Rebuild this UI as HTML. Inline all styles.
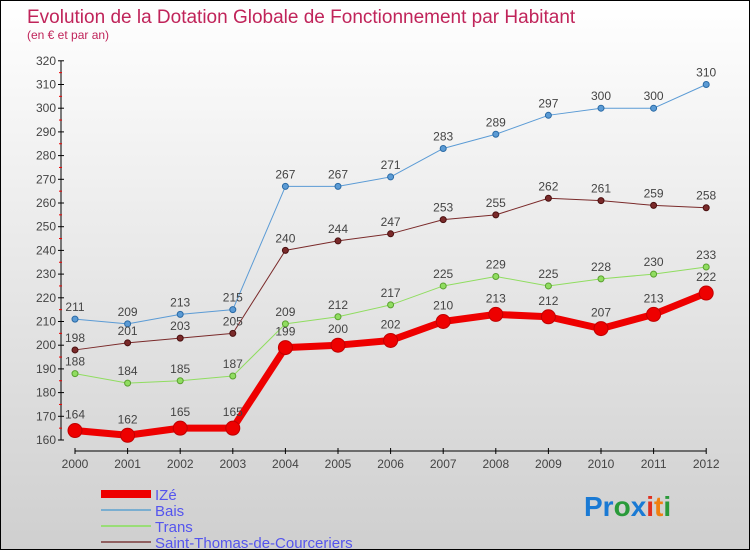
<!DOCTYPE html>
<html><head><meta charset="utf-8"><style>
body{margin:0}
#c{width:750px;height:550px;position:relative;overflow:hidden;box-sizing:border-box;border:1px solid #000;background:linear-gradient(#ffffff,#cfcfcf);font-family:"Liberation Sans",sans-serif}
</style></head><body>
<div id="c">
<svg id="s" width="748" height="548" xmlns="http://www.w3.org/2000/svg">
<text x="26" y="22" font-size="19" fill="#c0245a">Evolution de la Dotation Globale de Fonctionnement par Habitant</text>
<text x="26" y="38" font-size="12" fill="#c0245a">(en € et par an)</text>
<g id="axes"></g><g id="series"></g><g id="legend"></g>
<text x="583" y="515" font-size="28" font-weight="bold"><tspan fill="#1a7ad4">Pr</tspan><tspan fill="#2a9a3a">o</tspan><tspan fill="#1a7ad4">x</tspan><tspan fill="#e03020">i</tspan><tspan fill="#f08010">t</tspan><tspan fill="#2a9a3a">i</tspan></text>
</svg></div>
<script>
const years=[2000,2001,2002,2003,2004,2005,2006,2007,2008,2009,2010,2011,2012];
const ize=[164,162,165,165,199,200,202,210,213,212,207,213,222];
const bais=[211,209,213,215,267,267,271,283,289,297,300,300,310];
const trans=[188,184,185,187,209,212,217,225,229,225,228,230,233];
const stthomas=[198,201,203,205,240,244,247,253,255,262,261,259,258];
const yTicks=[160,170,180,190,200,210,220,230,240,250,260,270,280,290,300,310,320];
const NS="http://www.w3.org/2000/svg";
const X=i=>74+i*52.6, Y=v=>439-(v-160)*2.37;
function mk(t,a,p){const e=document.createElementNS(NS,t);for(const k in a)e.setAttribute(k,a[k]);p.appendChild(e);return e;}
const ax=document.getElementById('axes');
const yl=mk('line',{x1:60,y1:Y(320),x2:60,y2:Y(160),stroke:'#000'},ax);

yTicks.forEach(v=>{mk('line',{x1:57,x2:63,y1:Y(v),y2:Y(v),stroke:'#000'},ax);
 if(v<320)mk('line',{x1:58,x2:61,y1:Y(v+5),y2:Y(v+5),stroke:'#e00'},ax);
 const t=mk('text',{x:55,y:Y(v)+4,'font-size':12,fill:'#444','text-anchor':'end'},ax);t.textContent=v;
 });
const xl=mk('line',{x1:X(0),x2:X(12),y1:450,y2:450,stroke:'#000'},ax);

years.forEach((y,i)=>{mk('line',{x1:X(i),x2:X(i),y1:447,y2:453,stroke:'#000'},ax);
 const t=mk('text',{x:X(i),y:467,'font-size':12,fill:'#444','text-anchor':'middle'},ax);t.textContent=y;
 });
const sg=document.getElementById('series');
function series(d,col,dark,w,r,name){
 const g=mk('g',{},sg);
 const pl=mk('polyline',{points:d.map((v,i)=>X(i)+','+Y(v)).join(' '),fill:'none',stroke:col,'stroke-width':w,'stroke-linejoin':'round'},g);
 
 d.forEach((v,i)=>{const c=mk('circle',{cx:X(i),cy:Y(v),r:r,fill:col,stroke:dark,'stroke-width':1},g);
  
  const t=mk('text',{x:X(i),y:Y(v)-r-5,'font-size':12,fill:'#444','text-anchor':'middle'},g);t.textContent=v;
  });
}
series(bais,'#5b9bd5','#2a6aa5',1,3,'bais');
series(stthomas,'#7a2a2a','#4a1010',1,3,'saint-thomas');
series(trans,'#90dd60','#5aa030',1,3,'trans');
series(ize,'#ee0000','#c00000',7,7,'ize');
const lg=document.getElementById('legend');
[['IZé','#ee0000',8],['Bais','#7aaed0',2],['Trans','#99dd77',2],['Saint-Thomas-de-Courceriers','#906060',2]].forEach((e,i)=>{
 const y=493+i*16;
 const l=mk('line',{x1:100,x2:150,y1:y,y2:y,stroke:e[1],'stroke-width':e[2]},lg);
 
 const t=mk('text',{x:154,y:y+6,'font-size':15,fill:'#5555ee'},lg);t.textContent=e[0];
 });
</script>
</body></html>
